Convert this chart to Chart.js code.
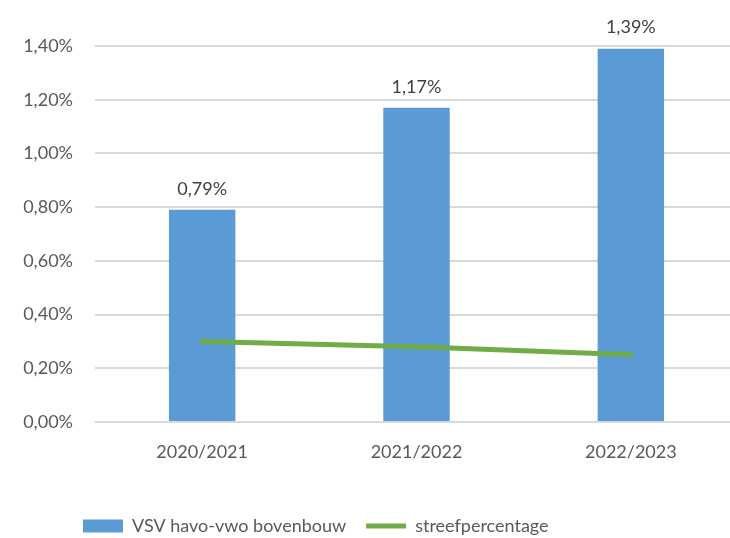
<!DOCTYPE html>
<html>
<head>
<meta charset="utf-8">
<script src="https://cdn.jsdelivr.net/npm/chart.js@4"></script>
<style>
    html, body { margin: 0; padding: 0; background: #fff; overflow: hidden; }
    #wrap { width: 745px; height: 538px; overflow: hidden; }
</style>
</head>
<body>
<div id="wrap"><canvas id="grafica" width="745" height="545"></canvas></div>
<script>
"use strict";
/* Datos de la gráfica */
const schooljaren = ["2020/2021", "2021/2022", "2022/2023"];
const vsvBovenbouw = [0.79, 1.17, 1.39];
const streefpercentage = [0.30, 0.28, 0.25];
const yTicks = [0, 0.2, 0.4, 0.6, 0.8, 1.0, 1.2, 1.4];

const fuente = "Lato, 'Open Sans', sans-serif";
const formatoPct = v => v.toFixed(2).replace(".", ",") + "%";

/* Etiquetas encima de las barras */
const etiquetasBarras = {
    id: "etiquetasBarras",
    afterDatasetsDraw(chart) {
        const ctx = chart.ctx;
        const meta = chart.getDatasetMeta(0);
        ctx.save();
        ctx.font = "18px " + fuente;
        ctx.fillStyle = "#404040";
        ctx.textAlign = "center";
        ctx.textBaseline = "bottom";
        meta.data.forEach((bar, i) => {
            ctx.fillText(formatoPct(vsvBovenbouw[i]), bar.x, bar.y - 12);
        });
        ctx.restore();
    }
};

/* Mover la leyenda a la izquierda como en el original */
const leyendaIzquierda = {
    id: "leyendaIzquierda",
    afterLayout(chart) {
        chart.legend.left = 63;
    }
};

new Chart(document.getElementById("grafica"), {
    type: "bar",
    data: {
        labels: schooljaren,
        datasets: [{
            label: "VSV havo-vwo bovenbouw",
            data: vsvBovenbouw,
            backgroundColor: "#5b9bd5",
            barPercentage: 1,
            categoryPercentage: 0.31,
            order: 2
        }, {
            type: "line",
            label: "streefpercentage",
            data: streefpercentage,
            borderColor: "#70ad47",
            backgroundColor: "#70ad47",
            borderWidth: 5,
            borderCapStyle: "round",
            pointRadius: 0,
            tension: 0,
            order: 1
        }]
    },
    options: {
        responsive: false,
        animation: false,
        layout: { padding: { top: 46, left: 0, right: 7, bottom: 0 } },
        plugins: {
            tooltip: { enabled: false },
            legend: {
                position: "bottom",
                align: "start",
                labels: {
                    font: { family: fuente, size: 18 },
                    color: "#595959",
                    usePointStyle: true,
                    pointStyleWidth: 40,
                    boxHeight: 13,
                    padding: 20,
                    sort: (a, b) => a.datasetIndex - b.datasetIndex,
                    generateLabels(chart) {
                        return Chart.defaults.plugins.legend.labels.generateLabels(chart).map(item => {
                            const esBarra = item.datasetIndex === 0;
                            return {
                                ...item,
                                pointStyle: esBarra ? "rect" : "line",
                                lineWidth: esBarra ? 0 : 5,
                                strokeStyle: esBarra ? "#5b9bd5" : "#70ad47",
                                fillStyle: esBarra ? "#5b9bd5" : "#70ad47"
                            };
                        });
                    }
                }
            }
        },
        scales: {
            x: {
                grid: { display: false },
                border: { display: false },
                ticks: { font: { family: fuente, size: 18 }, color: "#595959", padding: 11 },
                afterFit(scale) { scale.height = 75; }
            },
            y: {
                min: 0,
                max: 1.4,
                afterBuildTicks(scale) { scale.ticks = yTicks.map(v => ({ value: v })); },
                afterFit(scale) { scale.width = 95; },
                grid: { color: "#d9d9d9", lineWidth: 2, drawTicks: false },
                border: { display: false },
                ticks: {
                    font: { family: fuente, size: 18 },
                    color: "#595959",
                    padding: 22,
                    callback: v => formatoPct(v)
                }
            }
        }
    },
    plugins: [etiquetasBarras, leyendaIzquierda]
});
</script>
</body>
</html>
